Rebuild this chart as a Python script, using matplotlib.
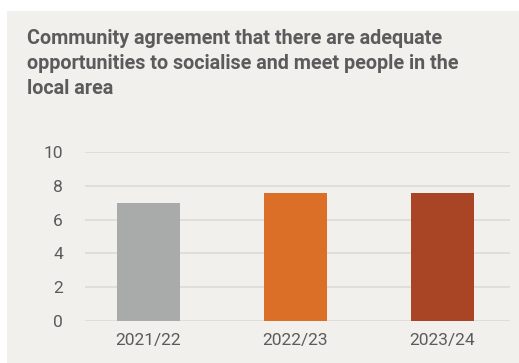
import matplotlib.pyplot as plt
from matplotlib.patches import Rectangle

years = ["2021/22", "2022/23", "2023/24"]
agreement = [7.0, 7.6, 7.6]
bar_colors = ["#a9abaa", "#db6f27", "#a94425"]
yticks = [0, 2, 4, 6, 8, 10]

title = ("Community agreement that there are adequate\n"
         "opportunities to socialise and meet people in the\n"
         "local area")

W, H = 519, 363
fig = plt.figure(figsize=(W / 100, H / 100), dpi=100, facecolor="white")

# beige panel behind everything
fig.patches.append(Rectangle((7 / W, 0), 1, 1 - 11 / H, transform=fig.transFigure,
                             facecolor="#f1f0ed", edgecolor="none", zorder=-5))

fig.text(27 / W, 1 - 29 / H, title, ha="left", va="top", fontsize=14.2,
         fontweight="bold", color="#5b5b5b", family="Roboto", linespacing=1.4)

ax = fig.add_axes([85 / W, 42 / H, (510 - 85) / W, (321 - 152) / H])
ax.set_facecolor("none")
x = range(len(years))
ax.bar(x, agreement, width=0.43, color=bar_colors, edgecolor="none", zorder=3)

ax.set_xlim(-0.43, 2.46)
ax.set_ylim(0, 10)
ax.set_yticks(yticks)
ax.set_xticks(list(x))
ax.set_xticklabels(years)
ax.grid(axis="y", color="#dcdbd8", linewidth=1.2, zorder=0)
for s in ax.spines.values():
    s.set_visible(False)
ax.tick_params(length=0, labelsize=12.5, labelcolor="#5b5b5b")
ax.tick_params(axis="y", pad=16)
ax.tick_params(axis="x", pad=9)
for lab in ax.get_xticklabels() + ax.get_yticklabels():
    lab.set_family("Roboto")

fig.savefig("out.png", dpi=100, facecolor=fig.get_facecolor())
